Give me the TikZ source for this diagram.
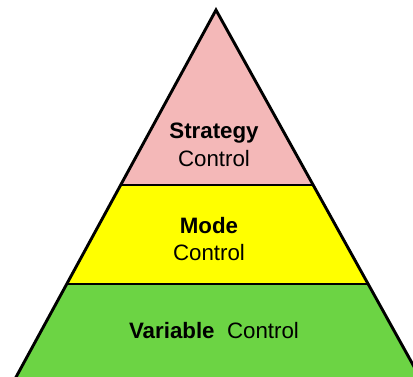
\documentclass[tikz,border=0pt]{standalone}
\usepackage{fontspec}
\setmainfont{Liberation Sans}
\usepackage{xcolor}
\usepackage{tikz}

\definecolor{strategypink}{RGB}{244,184,184}
\definecolor{modeyellow}{RGB}{255,255,0}
\definecolor{variablegreen}{RGB}{108,212,68}

\tikzset{
  layer/.style={font=\fontsize{22.3}{27.5}\selectfont, align=center, inner sep=0pt}
}

\begin{document}
\begin{tikzpicture}[x=1pt, y=-1pt]
\useasboundingbox (0,0) rectangle (413,376);
\clip (0,0) rectangle (413,376);
% three bands of the pyramid
\fill[strategypink] (216,10)--(121,185)--(313,185)--cycle;
\fill[modeyellow] (121,185)--(67,284)--(368,284)--(313,185)--cycle;
\fill[variablegreen] (67,284)--(9,390)--(427,390)--(368,284)--cycle;
% outline and dividers
\draw[line width=2.9pt, line join=miter] (9,390)--(216,10)--(427,390);
\draw[line width=2.9pt] (121,185)--(313,185);
\draw[line width=2.9pt] (67,284)--(368,284);

\node[layer] (strategy) at (214,145) {\textbf{Strategy}\\Control};
\node[layer] (mode) at (209,239) {\textbf{Mode}\\Control};
\node[layer] (variable) at (214,331) {\textbf{Variable}\ \ Control};
\end{tikzpicture}
\end{document}
